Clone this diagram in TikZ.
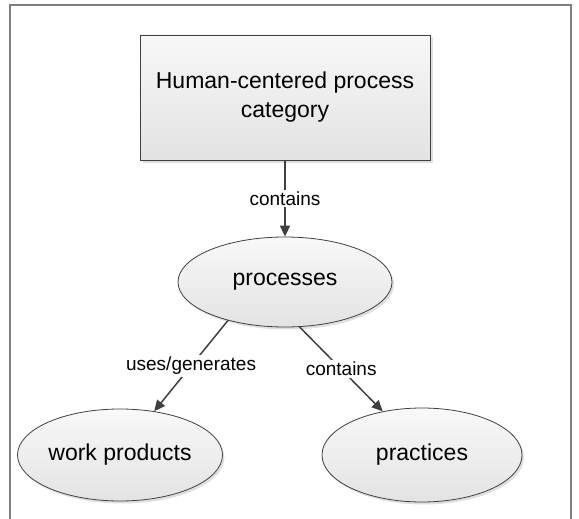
\documentclass[tikz,border=0pt]{standalone}
\usepackage{fontspec}
\setmainfont{Liberation Sans}
\usepackage{tikz}
\usetikzlibrary{shapes.geometric,arrows.meta,shadows}

\tikzset{
  catbox/.style={draw=black!75, line width=0.8pt, top color=gray!6, bottom color=gray!22,
    minimum width=290pt, minimum height=125pt, align=center,
    font=\fontsize{23}{29}\selectfont,
    drop shadow={shadow xshift=2.5pt, shadow yshift=-2.5pt, opacity=0.25, fill=gray}},
  conc/.style={ellipse, draw=black!75, line width=0.8pt, top color=gray!5, bottom color=gray!22,
    font=\fontsize{23}{27}\selectfont, inner sep=0pt,
    drop shadow={shadow xshift=2pt, shadow yshift=-2.5pt, opacity=0.25, fill=gray}},
  relarrow/.style={draw=black!75, line width=1.5pt, -{Triangle[length=11pt,width=10pt]}},
  rellabel/.style={fill=white, inner sep=2pt, font=\fontsize{19}{22}\selectfont, text=black}
}

\begin{document}
\begin{tikzpicture}[x=1pt,y=-1pt]
    \useasboundingbox (0,0) rectangle (579,519);

    % Frame
    \draw[black!50, line width=1.2pt] (10,530) -- (10,5) -- (571,5) -- (571,530);

    % Category
    \node[catbox] (cat) at (285,97.5) {Human-centered process\\category};

    % Concepts
    \node[conc, minimum width=214pt, minimum height=90pt] (proc) at (285,282) {processes};
    \node[conc, minimum width=205pt, minimum height=92pt] (work) at (120,455) {work products};
    \node[conc, minimum width=200pt, minimum height=94pt] (prac) at (422,455) {practices};

    % Relations
    \draw[relarrow] (cat) -- node[rellabel] {contains} (proc);
    \draw[relarrow] (proc.214) -- node[rellabel] {uses/generates} (work.52);
    \draw[relarrow] (proc.288) -- node[rellabel] {contains} (prac.132);
\end{tikzpicture}
\end{document}
